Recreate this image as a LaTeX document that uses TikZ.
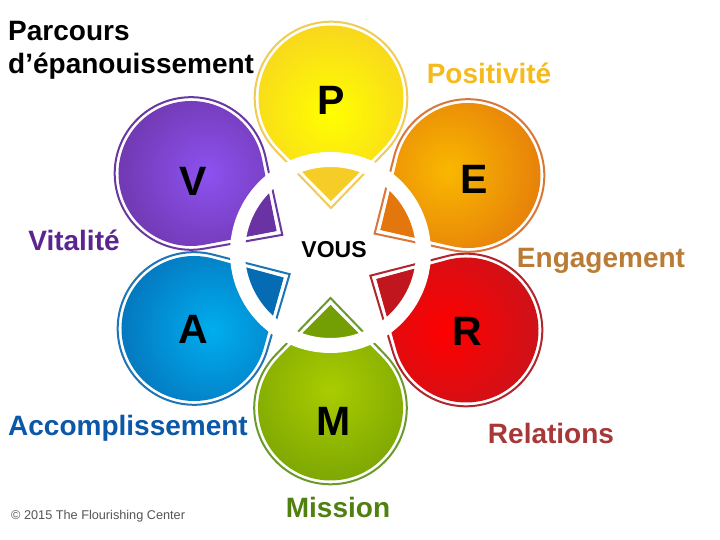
\documentclass[tikz,border=0pt]{standalone}
\usepackage{fontspec}
\setmainfont{Liberation Sans}
\definecolor{pIn}{HTML}{FFFF00}\definecolor{pOut}{HTML}{F6CC26}\definecolor{pLine}{HTML}{EFCB58}
\definecolor{eIn}{HTML}{F9B800}\definecolor{eOut}{HTML}{E3760C}\definecolor{eLine}{HTML}{D9763A}
\definecolor{rIn}{HTML}{FF0000}\definecolor{rOut}{HTML}{C2161E}\definecolor{rLine}{HTML}{B0252E}
\definecolor{mIn}{HTML}{AACC00}\definecolor{mOut}{HTML}{739F04}\definecolor{mLine}{HTML}{6A9A2A}
\definecolor{aIn}{HTML}{00AEEF}\definecolor{aOut}{HTML}{056CB4}\definecolor{aLine}{HTML}{1D75B8}
\definecolor{vIn}{HTML}{8C52F0}\definecolor{vOut}{HTML}{6A32A2}\definecolor{vLine}{HTML}{6A36A0}
\definecolor{tP}{HTML}{F6BA1C}\definecolor{tV}{HTML}{5B2590}\definecolor{tE}{HTML}{B97B36}
\definecolor{tA}{HTML}{0B57A8}\definecolor{tR}{HTML}{A83838}\definecolor{tM}{HTML}{4F8010}
\definecolor{tC}{HTML}{555555}
\pgfdeclareradialshading{pShade}{\pgfpointorigin}{color(0bp)=(pIn); color(25bp)=(pOut); color(50bp)=(pOut)}
\pgfdeclareradialshading{eShade}{\pgfpointorigin}{color(0bp)=(eIn); color(25bp)=(eOut); color(50bp)=(eOut)}
\pgfdeclareradialshading{rShade}{\pgfpointorigin}{color(0bp)=(rIn); color(25bp)=(rOut); color(50bp)=(rOut)}
\pgfdeclareradialshading{mShade}{\pgfpointorigin}{color(0bp)=(mIn); color(25bp)=(mOut); color(50bp)=(mOut)}
\pgfdeclareradialshading{aShade}{\pgfpointorigin}{color(0bp)=(aIn); color(25bp)=(aOut); color(50bp)=(aOut)}
\pgfdeclareradialshading{vShade}{\pgfpointorigin}{color(0bp)=(vIn); color(25bp)=(vOut); color(50bp)=(vOut)}
% #1 cx, #2 cy, #3 direction of the tip, #4 x offset of the gradient, #5 y offset, #6 prefix
\newcommand{\petal}[6]{%
  \draw[#6Line,line width=2pt,fill=white,shift={(#1,#2)},rotate=#3]
    (110,0) -- (45.5:76.3) arc[start angle=45.5,end angle=314.5,radius=76.3] -- cycle;
  \begin{scope}
    \clip[shift={(#1,#2)},rotate=#3]
      (103,0) -- (45.3:72.5) arc[start angle=45.3,end angle=314.7,radius=72.5] -- cycle;
    \shade[shading=#6Shade] (#1+#4,#2+#5) circle[radius=112];
    \fill[#6Out] (330.5,287.5) circle[radius=88];
  \end{scope}}
\tikzset{
  title/.style={font=\bfseries\fontsize{28}{28}\selectfont,anchor=base west,inner sep=0pt},
  label/.style={font=\bfseries\fontsize{28}{28}\selectfont,anchor=base,inner sep=0pt},
  letter/.style={font=\bfseries\fontsize{41}{41}\selectfont,text=black,inner sep=0pt}
}
\begin{document}
\begin{tikzpicture}[x=1pt,y=1pt]
\useasboundingbox (0,0) rectangle (720,540);
\fill[white] (0,0) rectangle (720,540);
\petal{191}{366.5}{-33.9}{16}{0}{v}
\petal{194}{211.5}{29.6}{19}{-2}{a}
\petal{466}{210}{150.4}{-19}{0}{r}
\petal{468}{364.5}{211.9}{-20}{5}{e}
\petal{331}{442}{270}{0}{-15}{p}
\petal{330.5}{132}{90}{0}{18}{m}
\fill[white,even odd rule] (330.5,287.5) circle[radius=100.5] (330.5,287.5) circle[radius=85.5];
\node[letter] (P) at (331,440) {P};
\node[letter] (E) at (474,361) {E};
\node[letter] (V) at (193,359) {V};
\node[letter] (A) at (193.5,211) {A};
\node[letter] (R) at (467.5,209) {R};
\node[letter] (M) at (334,119) {M};
\node[font=\bfseries\fontsize{23}{23}\selectfont,inner sep=0pt] (vous) at (334,290) {VOUS};
\node[title] (t1) at (8,499) {Parcours};
\node[title] (t2) at (8,466) {d’épanouissement};
\node[label,text=tP] (pos) at (489,456) {Positivité};
\node[label,text=tV] (vit) at (74,289) {Vitalité};
\node[label,text=tE] (eng) at (601,272) {Engagement};
\node[label,text=tA] (acc) at (128,104.5) {Accomplissement};
\node[label,text=tR] (rel) at (551,96) {Relations};
\node[label,text=tM] (mis) at (338,22) {Mission};
\node[font=\fontsize{12.7}{12.7}\selectfont,text=tC,anchor=base west,inner sep=0pt] (copy) at (11,20) {© 2015 The Flourishing Center};
\end{tikzpicture}
\end{document}
